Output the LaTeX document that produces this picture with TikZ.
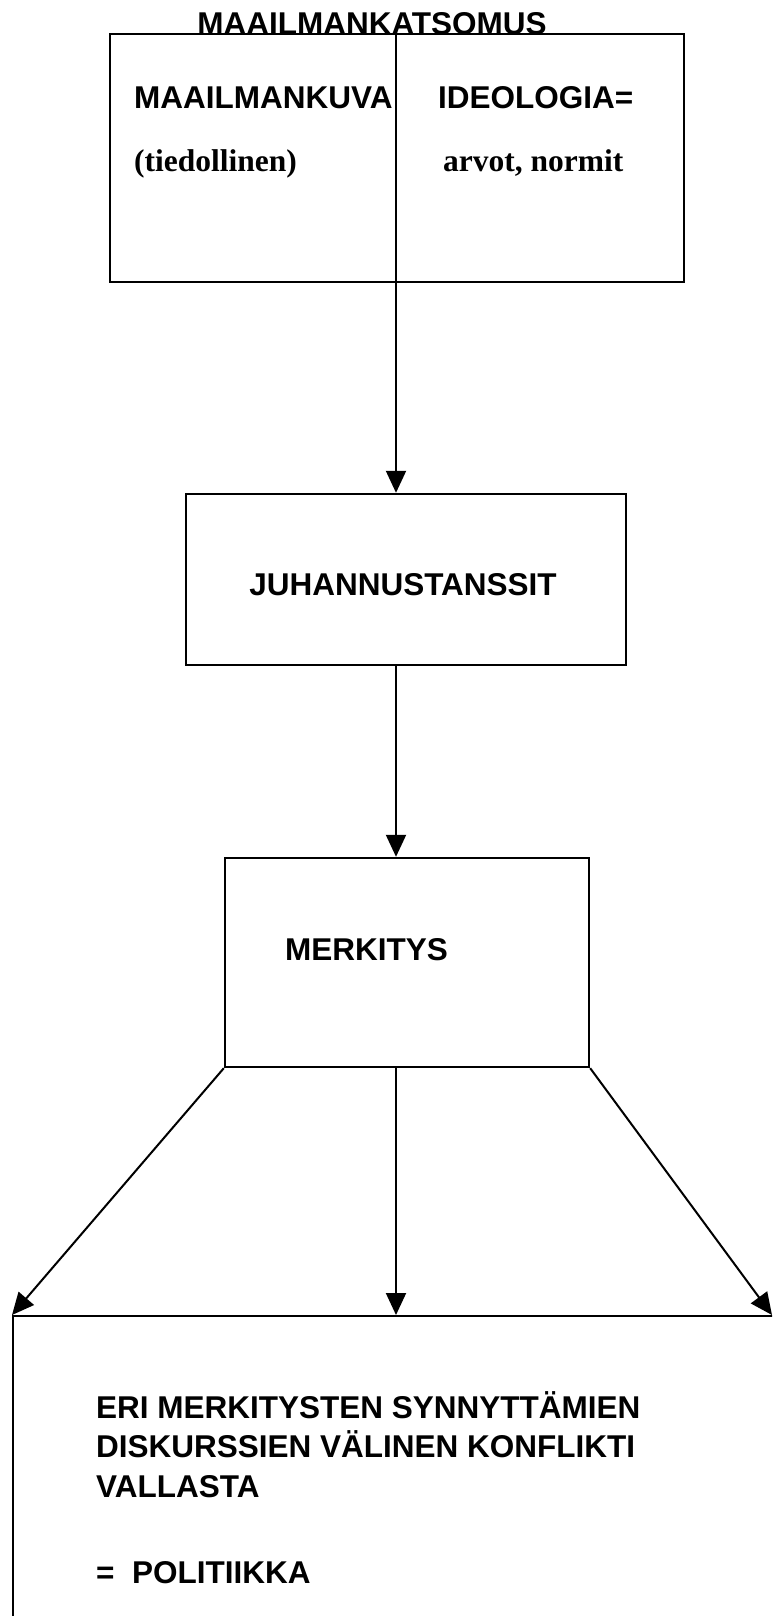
\documentclass[tikz,border=0pt]{standalone}
\usepackage{fontspec}
\setmainfont{Liberation Serif}
\setsansfont{Liberation Sans}
\usetikzlibrary{arrows.meta}
\begin{document}
\begin{tikzpicture}[x=1pt,y=-1pt,
  box/.style={draw, line width=2.4pt, inner sep=0pt},
  sanslab/.style={font=\sffamily\bfseries\fontsize{31.5}{39.5}\selectfont, inner sep=0pt},
  serlab/.style={font=\rmfamily\bfseries\fontsize{31.5}{38}\selectfont, inner sep=0pt},
  arr/.style={line width=2pt, -{Triangle[length=22pt,width=20pt]}}]
\useasboundingbox (0,0) rectangle (772,1616);
\clip (0,0) rectangle (772,1616);
% title
\node[sanslab, anchor=base] (title) at (372,35) {MAAILMANKATSOMUS};
% top box
\node[box, minimum width=574pt, minimum height=248pt] (topbox) at (397,158) {};
\node[sanslab, anchor=base west] (kuva) at (134,109) {MAAILMANKUVA};
\node[sanslab, anchor=base west] (ideo) at (438,109) {IDEOLOGIA=};
\node[serlab, anchor=base west] (tied) at (134,172) {(tiedollinen)};
\node[serlab, anchor=base west] (arvot) at (443,172) {arvot, normit};
% middle boxes
\node[box, minimum width=440pt, minimum height=171pt] (juh) at (406,579.5) {};
\node[sanslab] (juhtext) at (403,585) {JUHANNUSTANSSIT};
\node[box, minimum width=364pt, minimum height=209pt] (merk) at (407,962.5) {};
\node[sanslab, anchor=west] (merktext) at (285,950) {MERKITYS};
% bottom box (cut by the page edge)
\node[box, minimum width=900pt, minimum height=600pt, anchor=north west] (bot) at (12,1315) {};
\node[sanslab, anchor=base west] (bt1) at (96,1418) {ERI MERKITYSTEN SYNNYTTÄMIEN};
\node[sanslab, anchor=base west] (bt2) at (96,1457.5) {DISKURSSIEN VÄLINEN KONFLIKTI};
\node[sanslab, anchor=base west] (bt3) at (96,1497) {VALLASTA};
\node[sanslab, anchor=base west] (bt4) at (96,1583) {=\ \ POLITIIKKA};
\coordinate (rt) at (772,1315);
% connectors
\draw[arr] (396,0 |- topbox.north) -- (396,0 |- juh.north);
\draw[arr] (396,0 |- juh.south) -- (396,0 |- merk.north);
\draw[arr] (merk.south west) -- (bot.north west);
\draw[arr] (396,0 |- merk.south) -- (396,0 |- bot.north);
\draw[arr] (merk.south east) -- (rt);
\end{tikzpicture}
\end{document}
